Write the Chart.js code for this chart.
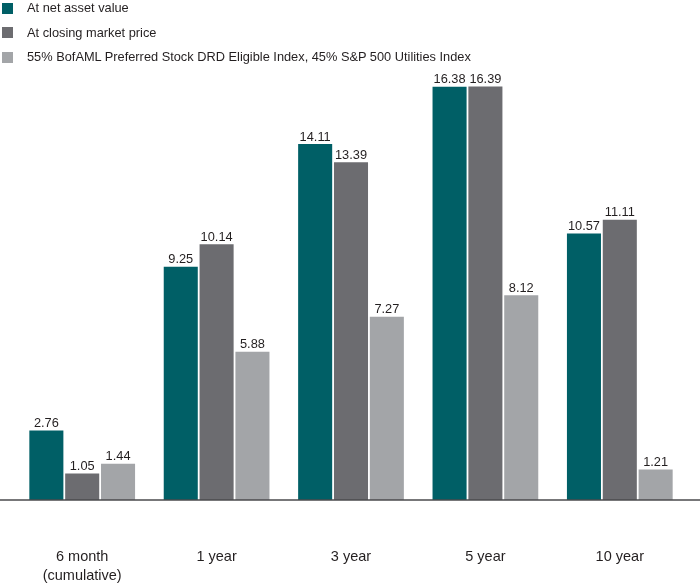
<!DOCTYPE html>
<html>
<head>
<meta charset="utf-8">
<script src="https://cdn.jsdelivr.net/npm/chart.js@4/dist/chart.umd.min.js"></script>
<style>
  html, body { margin: 0; padding: 0; background: #fff; }
  #wrap { position: relative; width: 700px; height: 584px; }
  #legend { position: absolute; left: 0; top: 0; margin: 0; padding: 0; list-style: none;
            font-family: "Liberation Sans", Arial, sans-serif; font-size: 12.8px; color: #231f20; }
  #legend li { position: relative; height: 24.5px; line-height: 16px; padding-left: 27px; white-space: nowrap; }
  #legend li span.box { position: absolute; left: 2px; top: 2.5px; width: 11px; height: 11px; }
</style>
</head>
<body>
<div id="wrap">
  <canvas id="c" width="700" height="584"></canvas>
  <ul id="legend"></ul>
</div>
<script>
const categories = [["6 month", "(cumulative)"], "1 year", "3 year", "5 year", "10 year"];
const seriesNames = [
  "At net asset value",
  "At closing market price",
  "55% BofAML Preferred Stock DRD Eligible Index, 45% S&P 500 Utilities Index"
];
const navValues = [2.76, 9.25, 14.11, 16.38, 10.57];
const marketValues = [1.05, 10.14, 13.39, 16.39, 11.11];
const indexValues = [1.44, 5.88, 7.27, 8.12, 1.21];
const seriesColors = ["#005f66", "#6c6c70", "#a3a5a8"];

const FONT = '"Liberation Sans", Arial, sans-serif';

const valueLabels = {
  id: 'valueLabels',
  afterDatasetsDraw(chart) {
    const ctx = chart.ctx;
    ctx.save();
    ctx.font = '12.8px ' + FONT;
    ctx.fillStyle = '#231f20';
    ctx.textAlign = 'center';
    ctx.textBaseline = 'alphabetic';
    chart.data.datasets.forEach((ds, i) => {
      const meta = chart.getDatasetMeta(i);
      meta.data.forEach((bar, j) => {
        ctx.fillText(ds.data[j].toFixed(2), bar.x, bar.y - 3.5);
      });
    });
    ctx.restore();
  }
};

const baseLine = {
  id: 'baseLine',
  afterDatasetsDraw(chart) {
    const ctx = chart.ctx;
    const y = chart.scales.y.getPixelForValue(0);
    ctx.save();
    ctx.strokeStyle = '#4a4a4c';
    ctx.lineWidth = 1.7;
    ctx.beginPath();
    ctx.moveTo(0, y);
    ctx.lineTo(chart.width, y);
    ctx.stroke();
    ctx.restore();
  }
};

const chart = new Chart(document.getElementById('c'), {
  type: 'bar',
  data: {
    labels: categories,
    datasets: [
      { label: seriesNames[0], data: navValues, backgroundColor: seriesColors[0] },
      { label: seriesNames[1], data: marketValues, backgroundColor: seriesColors[1] },
      { label: seriesNames[2], data: indexValues, backgroundColor: seriesColors[2] }
    ]
  },
  options: {
    responsive: false,
    animation: false,
    devicePixelRatio: 1,
    categoryPercentage: 0.8,
    barPercentage: 0.95,
    layout: { padding: { top: 46, left: 15, right: 13, bottom: 0 } },
    plugins: { legend: { display: false }, tooltip: { enabled: false } },
    scales: {
      x: {
        grid: { display: false, drawTicks: false },
        border: { display: false },
        afterFit(scale) { scale.height = 84; scale.paddingLeft = 0; scale.paddingRight = 0; },
        ticks: {
          padding: 48,
          color: '#231f20',
          font: { family: FONT, size: 14.5, lineHeight: 1.3 },
          maxRotation: 0, autoSkip: false
        }
      },
      y: { display: false, min: 0, max: 18 }
    }
  },
  plugins: [valueLabels, baseLine]
});

const legend = document.getElementById('legend');
chart.data.datasets.forEach(ds => {
  const li = document.createElement('li');
  const box = document.createElement('span');
  box.className = 'box';
  box.style.background = ds.backgroundColor;
  li.appendChild(box);
  li.appendChild(document.createTextNode(ds.label));
  legend.appendChild(li);
});
</script>
</body>
</html>
